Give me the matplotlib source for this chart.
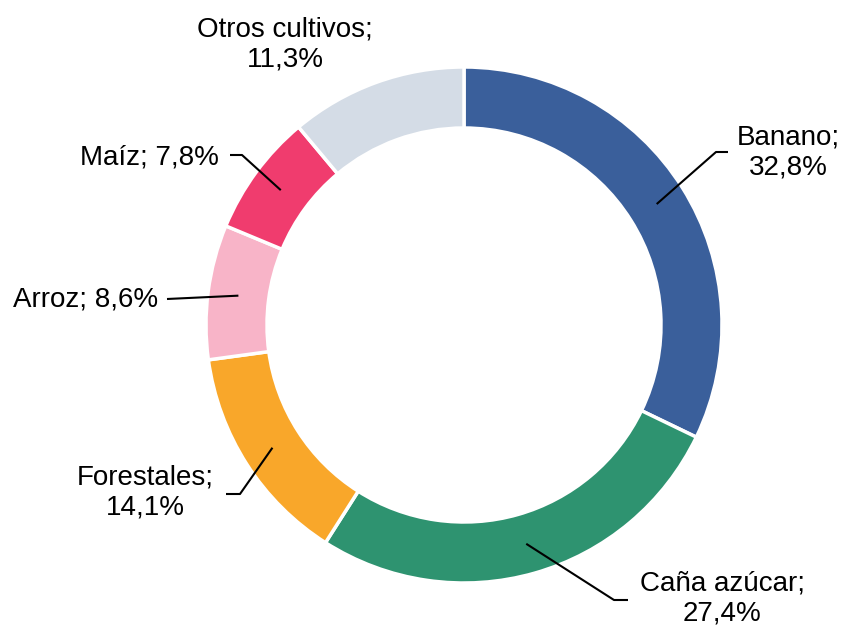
import numpy as np
import matplotlib.pyplot as plt

plt.rcParams['font.family'] = ['Liberation Sans', 'DejaVu Sans']

# Participación por cultivo (%)
cultivos = ['Banano', 'Caña azúcar', 'Forestales', 'Arroz', 'Maíz', 'Otros cultivos']
valores = [32.8, 27.4, 14.1, 8.6, 7.8, 11.3]
colores = ['#3A5F9B', '#2E9370', '#F9A72A', '#F8B4C8', '#F03C6E', '#D4DCE6']
etiquetas = ['Banano;\n32,8%', 'Caña azúcar;\n27,4%', 'Forestales;\n14,1%',
             'Arroz; 8,6%', 'Maíz; 7,8%', 'Otros cultivos;\n11,3%']

W, H = 843, 631
fig = plt.figure(figsize=(W / 100, H / 100), dpi=100)
ax = fig.add_axes([0, 0, 1, 1])

cx, cy = 464, H - 325
R, ancho = 258, 61

ax.pie(valores, colors=colores, startangle=90, counterclock=False,
       center=(cx, cy), radius=R, frame=True,
       wedgeprops=dict(width=ancho, edgecolor='white', linewidth=2.5))
ax.set_xlim(0, W)
ax.set_ylim(0, H)
ax.set_aspect('equal')
ax.axis('off')

# posiciones de las etiquetas (coordenadas de imagen): texto, codo, fin de línea, alineación
layout = [
    ((788, 153), (716, 152), (728, 152), 'center'),
    ((722, 599), (614, 600), (628, 600), 'center'),
    ((145, 493), (240, 494), (226, 494), 'center'),
    ((158, 300), None, (167, 299), 'right'),
    ((219, 157), (242, 155), (230, 155), 'right'),
    ((285, 44), None, None, 'center'),
]

total = sum(valores)
acum = 0
r_mid = R - ancho / 2
for val, lab, (txt, codo, fin, ha) in zip(valores, etiquetas, layout):
    frac = (acum + val / 2) / total
    acum += val
    ang = np.deg2rad(90 - 360 * frac)
    px, py = cx + r_mid * np.cos(ang), cy + r_mid * np.sin(ang)
    if fin is not None:
        xs, ys = [px], [py]
        if codo is not None:
            xs.append(codo[0])
            ys.append(H - codo[1])
        xs.append(fin[0])
        ys.append(H - fin[1])
        ax.plot(xs, ys, color='black', lw=1.5, solid_capstyle='butt')
    ax.text(txt[0], H - txt[1], lab, ha=ha, va='center', fontsize=20,
            linespacing=1.2, color='black', multialignment='center')

fig.savefig('out.png', dpi=100)
